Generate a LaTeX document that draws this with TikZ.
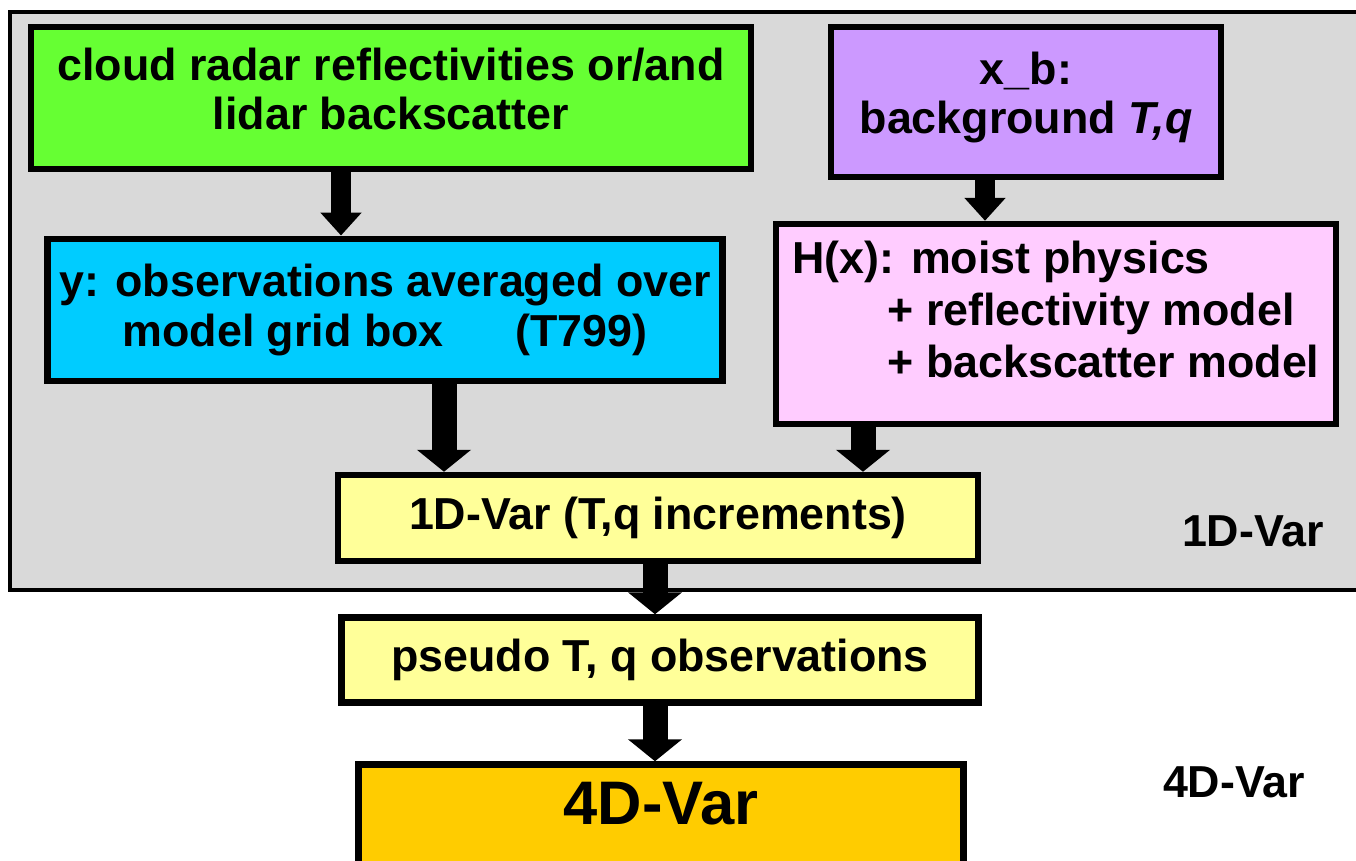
\documentclass[tikz,border=0pt]{standalone}
\usepackage{fontspec}
\setmainfont{Liberation Sans}
\usetikzlibrary{arrows.meta,positioning}
\definecolor{panelgray}{HTML}{D9D9D9}
\definecolor{obsgreen}{HTML}{66FF33}
\definecolor{bgpurple}{HTML}{CC99FF}
\definecolor{obsblue}{HTML}{00CCFF}
\definecolor{hxpink}{HTML}{FFCCFF}
\definecolor{varyellow}{HTML}{FFFF99}
\definecolor{varorange}{HTML}{FFCC00}
\newcommand{\boxfont}{\fontsize{25.5}{28}\selectfont\bfseries}
\newcommand{\bigboxfont}{\fontsize{35}{40}\selectfont\bfseries}
\tikzset{
  panel/.style={draw=black,fill=panelgray,line width=0.8mm},
  procbox/.style={draw=black,line width=1.3mm,align=center,inner sep=2pt,
    font=\boxfont},
  panellbl/.style={font=\boxfont,inner sep=0pt},
  blkthin/.style={line width=4mm,-{Triangle[length=4.6mm,width=8mm]}},
  blk/.style={line width=5mm,-{Triangle[length=4.4mm,width=10.6mm]}},
}

\begin{document}
\begin{tikzpicture}[x=0.02cm,y=-0.02cm]
  \useasboundingbox (0,0) rectangle (1356,860);
  % 1D-Var panel
  \draw[panel] (10,12) rectangle (1400,590);
  \node[panellbl] (lbl1) at (1253,531) {1D-Var};
  % inputs
  \node[procbox,fill=obsgreen,minimum width=14.4cm,minimum height=2.85cm,
    text depth=0.37cm]
    (cloud) at (391,98) {cloud radar reflectivities or/and\\lidar backscatter};
  \node[procbox,fill=bgpurple,minimum width=7.8cm,minimum height=3cm,
    text depth=0.37cm]
    (xb) at (1026,102) {x\_b:\\background \textit{T,q}};
  \node[procbox,fill=obsblue,minimum width=13.5cm,minimum height=2.85cm]
    (obs) at (385,310) {y: observations averaged over\\model grid box\hspace{1.6em}(T799)};
  \node[procbox,fill=hxpink,minimum width=11.2cm,minimum height=4cm,align=left,
    font=\fontsize{25.5}{29.5}\selectfont\bfseries,text depth=0.6cm]
    (hx) at (1056,324) {H(x): moist physics\\
      \hspace*{1.9cm}+ reflectivity model\\
      \hspace*{1.9cm}+ backscatter model};
  % 1D-Var and 4D-Var
  \node[procbox,fill=varyellow,minimum width=12.8cm,minimum height=1.72cm]
    (var1) at (658,518) {1D-Var (T,q increments)};
  \node[procbox,fill=varyellow,minimum width=12.75cm,minimum height=1.7cm]
    (pseudo) at (660,660) {pseudo T, q observations};
  \node[procbox,fill=varorange,minimum width=12.1cm,minimum height=2.3cm,
    font=\bigboxfont,text depth=0.75cm]
    (var4) at (661,822) {4D-Var};
  \node[panellbl] (lbl4) at (1234,782) {4D-Var};
  % block arrows
  \draw[blkthin] (341,0 |- cloud.south) -- (341,0 |- obs.north);
  \draw[blkthin] (985,0 |- xb.south) -- (985,0 |- hx.north);
  \draw[blk] (444,0 |- obs.south) -- (444,0 |- var1.north);
  \draw[blk] (863,0 |- hx.south) -- (863,0 |- var1.north);
  \draw[blk] (655,0 |- var1.south) -- (655,0 |- pseudo.north);
  \draw[blk] (655,0 |- pseudo.south) -- (655,0 |- var4.north);
\end{tikzpicture}
\end{document}
